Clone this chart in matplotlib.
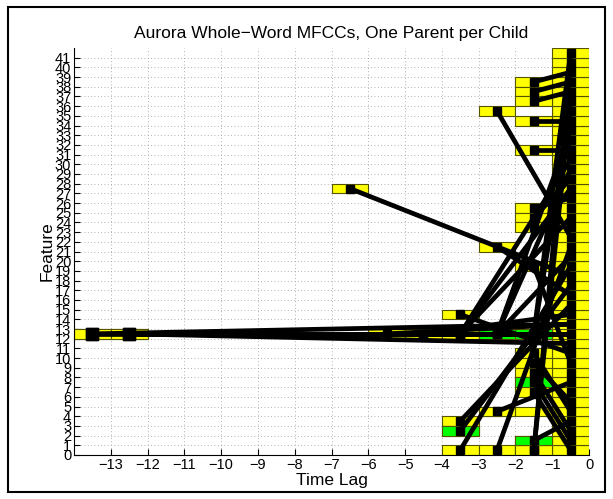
import matplotlib
matplotlib.use("Agg")
import matplotlib.pyplot as plt
from matplotlib.patches import Rectangle

plt.rcParams['font.family'] = ['Liberation Sans', 'DejaVu Sans']

title = "Aurora Whole\u2212Word MFCCs, One Parent per Child"
xlabel = "Time Lag"
ylabel = "Feature"
x_ticks = list(range(-13, 1))
y_ticks = list(range(0, 42))
n_features = 42

# parent node: lag (column centre), feature row ; child feature row (at lag -0.5)
parent_lag = [-13.5, -13.5, -12.5, -12.5,
              -5.5, -4.5, -4.5,
              -3.5, -3.5, -3.5, -2.5, -2.5, -2.5, -1.5, -1.5,
              -6.5, -2.5, -2.5,
              -1.5, -1.5, -1.5, -1.5, -1.5,
              -1.5, -1.5, -1.5, -1.5,
              -3.5, -3.5, -3.5, -2.5,
              -3.5, -2.5, -1.5, -1.5, -1.5,
              -1.5, -1.5, -1.5, -1.5, -1.5]
parent_feat = [12, 12, 12, 12,
               12, 12, 12,
               12, 12, 12, 12, 12, 12, 12, 12,
               27, 35, 21,
               38, 37, 36, 34, 31,
               25, 24, 23, 19,
               14, 3, 2, 4,
               0, 0, 0, 0, 1,
               10, 9, 8, 7, 6]
child_feat = [12, 13, 12, 11,
              13, 12, 14,
              30, 27, 24, 33, 29, 20, 41, 35,
              18, 22, 16,
              39, 38, 37, 34, 31,
              26, 28, 32, 9,
              10, 15, 17, 7,
              19, 21, 40, 36, 3,
              4, 5, 2, 1, 0]
green_lag = [-1.5, -1.5, -3.5, -1.5, -2.5]
green_feat = [1, 7, 2, 12, 12]
white_lag = [-1.5]
white_feat = [35]
extra_box_lag = [-2.5, -1.5]
extra_box_feat = [4, 4]

fig = plt.figure(figsize=(6.13, 4.99), dpi=100)
ax = fig.add_axes([74/613, 1-455/499, (589-74)/613, (455-48)/499])

ax.set_xlim(-14, 0)
ax.set_ylim(0, 42)
ax.set_xticks(x_ticks)
ax.set_xticklabels([str(t).replace('-', '\u2212') for t in x_ticks])
ax.set_yticks(y_ticks)
ax.tick_params(direction='in', length=4, labelsize=10.5, width=0.8, pad=2)
ax.spines['top'].set_visible(False)
ax.spines['right'].set_visible(False)
ax.grid(True, linestyle=(0, (1, 3)), color='#999999', linewidth=0.6)
ax.set_axisbelow(True)

edge_col = '#555500'

def box(lag, feat, color):
    ax.add_patch(Rectangle((lag - 0.5, feat), 1, 1, facecolor=color,
                           edgecolor=edge_col, linewidth=0.8, zorder=2))

for f in range(n_features):
    box(-0.5, f, '#ffff00')
for lag, f in zip(extra_box_lag, extra_box_feat):
    box(lag, f, '#ffff00')
for lag, f in zip(parent_lag, parent_feat):
    box(lag, f, '#ffff00')
for lag, f in zip(green_lag, green_feat):
    box(lag, f, '#00ff00')
for lag, f in zip(white_lag, white_feat):
    box(lag, f, 'white')

for lag, pf, cf in zip(parent_lag, parent_feat, child_feat):
    ax.plot([lag, -0.5], [pf + 0.5, cf + 0.5], color='black', linewidth=3.4,
            solid_capstyle='butt', zorder=3)
for lag, pf in zip(parent_lag, parent_feat):
    ms = 9 if lag < -12 else 5.8
    ax.plot([lag], [pf + 0.5], 's', color='black', markersize=ms, zorder=4)
ax.plot([-0.5] * n_features, [f + 0.5 for f in range(n_features)], 's',
        color='black', markersize=5.8, zorder=4)

ax.set_title(title, fontsize=12.5, pad=7)
ax.set_xlabel(xlabel, fontsize=12.5, labelpad=1)
ax.set_ylabel(ylabel, fontsize=12.5, labelpad=0)

fig.patches.append(Rectangle((8/613, 1-492/499), 597/613, 485/499, transform=fig.transFigure,
                             fill=False, edgecolor='black', linewidth=1.5))

fig.savefig("out.png", dpi=100)
